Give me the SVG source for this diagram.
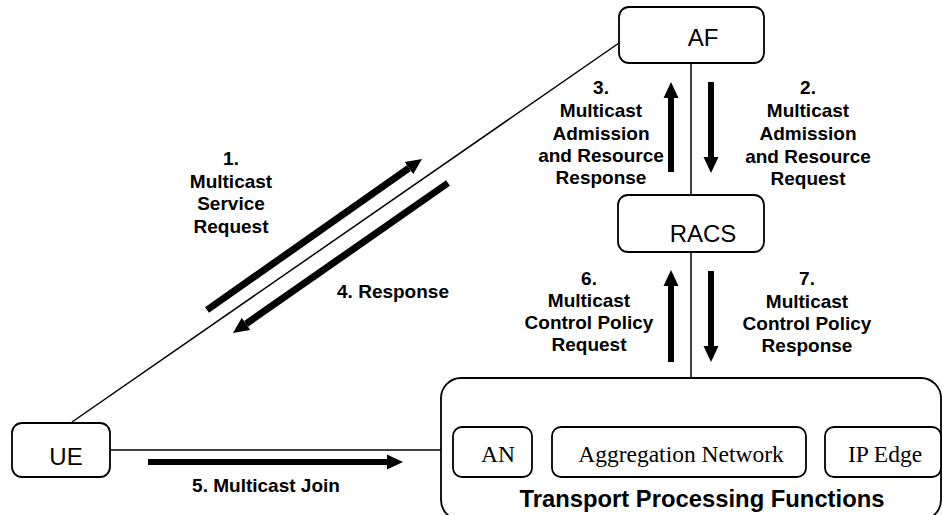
<svg xmlns="http://www.w3.org/2000/svg" width="942" height="515" viewBox="0 0 942 515">
<style>
.box{fill:#fff;stroke:#000;stroke-width:1.8}
.ln{stroke:#000;stroke-width:1.5;fill:none}
.arr{stroke:#000;stroke-width:6;fill:none;marker-end:url(#ah)}
.node{font-family:"Liberation Sans",Arial,sans-serif;font-size:24px;text-anchor:middle;fill:#000}
.lbl{font-family:"Liberation Sans",Arial,sans-serif;font-size:19px;font-weight:bold;text-anchor:middle;fill:#000}
.tnr{font-family:"Liberation Serif","Times New Roman",serif;font-size:23.5px;text-anchor:middle;fill:#000}
.ttl{font-family:"Liberation Sans",Arial,sans-serif;font-size:23.8px;font-weight:bold;text-anchor:middle;fill:#000}
</style>
<defs>
<marker id="ah" markerUnits="userSpaceOnUse" viewBox="0 0 16 16" markerWidth="16" markerHeight="16" refX="0" refY="8" orient="auto">
<path d="M0,0.5 L16,8 L0,15.5 z" fill="#000"/>
</marker>
</defs>
<rect width="942" height="515" fill="#fff"/>
<g id="connectors">
<line class="ln" x1="72" y1="422" x2="619" y2="43"/>
<line class="ln" x1="110" y1="450" x2="441" y2="450"/>
<line class="ln" x1="691" y1="63" x2="691" y2="195"/>
<line class="ln" x1="691" y1="252" x2="691" y2="378"/>
<line class="ln" x1="532" y1="460" x2="552" y2="460"/>
<line class="ln" x1="806" y1="460" x2="825" y2="460"/>
<line class="arr" style="stroke-width:7" x1="207" y1="310" x2="408.9" y2="168.2"/>
<line class="arr" style="stroke-width:7" x1="448" y1="183" x2="246.1" y2="323.8"/>
<line class="arr" x1="711" y1="82" x2="711" y2="157"/>
<line class="arr" x1="671" y1="172" x2="671" y2="98"/>
<line class="arr" x1="671" y1="362" x2="671" y2="286"/>
<line class="arr" x1="711" y1="271" x2="711" y2="346"/>
<line class="arr" x1="148" y1="462" x2="387" y2="462"/>
<text class="lbl" x="231"><tspan x="231" y="165">1.</tspan><tspan x="231" y="188">Multicast</tspan><tspan x="231" y="210">Service</tspan><tspan x="231" y="233">Request</tspan></text>
<text class="lbl" x="808"><tspan x="808" y="94">2.</tspan><tspan x="808" y="117">Multicast</tspan><tspan x="808" y="140">Admission</tspan><tspan x="808" y="163">and Resource</tspan><tspan x="808" y="185">Request</tspan></text>
<text class="lbl" x="601"><tspan x="601" y="94">3.</tspan><tspan x="601" y="117">Multicast</tspan><tspan x="601" y="140">Admission</tspan><tspan x="601" y="162">and Resource</tspan><tspan x="601" y="184">Response</tspan></text>
<text class="lbl" x="393" y="298">4. Response</text>
<text class="lbl" x="266" y="492">5. Multicast Join</text>
<text class="lbl" x="589"><tspan x="589" y="285">6.</tspan><tspan x="589" y="307">Multicast</tspan><tspan x="589" y="329">Control Policy</tspan><tspan x="589" y="351">Request</tspan></text>
<text class="lbl" x="807"><tspan x="807" y="285">7.</tspan><tspan x="807" y="308">Multicast</tspan><tspan x="807" y="330">Control Policy</tspan><tspan x="807" y="352">Response</tspan></text>
</g>
<g id="AF">
<rect class="box" x="619" y="7" width="145" height="56" rx="10"/>
<text class="node" x="703" y="46">AF</text>
</g>
<g id="RACS">
<rect class="box" x="618" y="195" width="146" height="57" rx="10"/>
<text class="node" x="703" y="242">RACS</text>
</g>
<g id="UE">
<rect class="box" x="12" y="423" width="98" height="54" rx="10"/>
<text class="node" x="66" y="465">UE</text>
</g>
<g id="TPF">
<rect class="box" x="441" y="378" width="500" height="142" rx="20"/>
<text class="ttl" x="702" y="507">Transport Processing Functions</text>
</g>
<g id="AN">
<rect class="box" x="453" y="427" width="79" height="50" rx="9"/>
<text class="tnr" x="498" y="462">AN</text>
</g>
<g id="AggregationNetwork">
<rect class="box" x="552" y="427" width="254" height="50" rx="9"/>
<text class="tnr" x="681" y="462">Aggregation Network</text>
</g>
<g id="IPEdge">
<rect class="box" x="825" y="427" width="116" height="50" rx="9"/>
<text class="tnr" x="885" y="462">IP Edge</text>
</g>
</svg>
